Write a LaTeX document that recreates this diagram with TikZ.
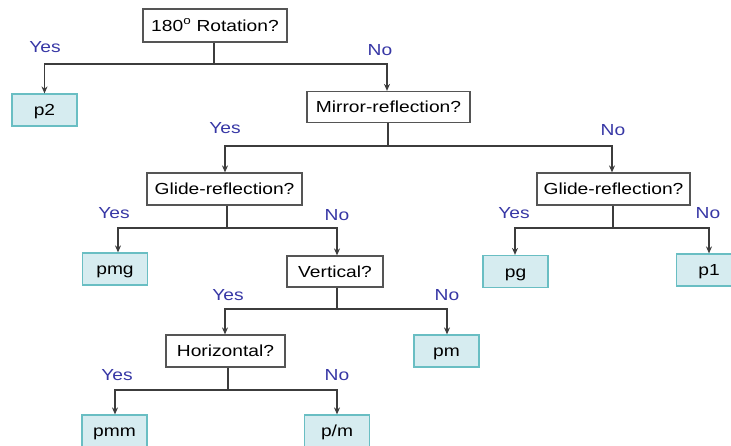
\documentclass[tikz,border=0pt]{standalone}
\usepackage{fontspec}
\setmainfont[FakeStretch=1.2]{Liberation Sans}
\usetikzlibrary{arrows.meta}
\definecolor{qborder}{RGB}{85,85,85}
\definecolor{leaffill}{RGB}{214,236,240}
\definecolor{leafborder}{RGB}{105,190,195}
\definecolor{ansblue}{RGB}{55,55,165}
\definecolor{conncol}{RGB}{60,60,60}
\tikzset{
  txt/.style={inner sep=0pt, text height=11.5pt, text depth=0pt, font=\fontsize{16}{19}\selectfont},
  qbox/.style={txt, draw=qborder, line width=1.2pt, fill=white},
  leaf/.style={txt, draw=leafborder, line width=1.2pt, fill=leaffill, minimum width=65pt, minimum height=32pt},
  ans/.style={txt, text=ansblue},
  link/.style={draw=conncol, line width=1.1pt},
  arr/.style={link, -{Stealth[length=7pt,width=6pt]}},
}
\begin{document}
\begin{tikzpicture}[x=1pt,y=-1pt]
\useasboundingbox (0,0) rectangle (731,446);
\clip (0,0) rectangle (731,446);
% question nodes
\node[qbox, minimum width=144pt, minimum height=33pt] (root) at (215,25.5) {180\textsuperscript{o} Rotation?};
\node[qbox, minimum width=163pt, minimum height=31pt] (mirror) at (388.5,107) {Mirror-reflection?};
\node[qbox, minimum width=155pt, minimum height=32pt] (glideA) at (224.5,189) {Glide-reflection?};
\node[qbox, minimum width=153pt, minimum height=32pt] (glideB) at (613.5,189) {Glide-reflection?};
\node[qbox, minimum width=96pt, minimum height=31pt] (vert) at (335,271.5) {Vertical?};
\node[qbox, minimum width=119pt, minimum height=32pt] (horiz) at (225.5,351) {Horizontal?};
% leaves
\node[leaf] (p2) at (44.5,110) {p2};
\node[leaf] (pmg) at (115,269) {pmg};
\node[leaf] (pg) at (515.5,271.5) {pg};
\node[leaf] (p1) at (709,270) {p1};
\node[leaf] (pm) at (446.5,351) {pm};
\node[leaf] (pmm) at (114.5,431) {pmm};
\node[leaf] (pslm) at (337,431) {p/m};
% junctions
\coordinate (j1) at (214,64);
\coordinate (j2) at (388,146);
\coordinate (j3) at (227,228);
\coordinate (j4) at (613,228);
\coordinate (j5) at (337,309);
\coordinate (j6) at (228,390);
% connectors
\draw[link] (root.south -| j1) -- (j1);
\draw[arr] (j1) -| (p2.north);
\draw[arr] (j1) -| (mirror.north -| 387,0);
\draw[link] (mirror.south -| j2) -- (j2);
\draw[arr] (j2) -| (glideA.north -| 225,0);
\draw[arr] (j2) -| (glideB.north -| 612,0);
\draw[link] (glideA.south -| j3) -- (j3);
\draw[arr] (j3) -| (pmg.north -| 118,0);
\draw[arr] (j3) -| (vert.north -| 337,0);
\draw[link] (glideB.south -| j4) -- (j4);
\draw[arr] (j4) -| (pg.north -| 515,0);
\draw[arr] (j4) -| (p1.north);
\draw[link] (vert.south -| j5) -- (j5);
\draw[arr] (j5) -| (horiz.north -| 225,0);
\draw[arr] (j5) -| (pm.north -| 447,0);
\draw[link] (horiz.south -| j6) -- (j6);
\draw[arr] (j6) -| (pmm.north -| 115,0);
\draw[arr] (j6) -| (pslm.north);
% answer labels
\node[ans] (y1) at (45,47) {Yes};
\node[ans] (n1) at (380,50) {No};
\node[ans] (y2) at (225,128) {Yes};
\node[ans] (n2) at (613,130) {No};
\node[ans] (y3) at (114,213) {Yes};
\node[ans] (n3) at (337,215) {No};
\node[ans] (y4) at (514,213) {Yes};
\node[ans] (n4) at (708,213) {No};
\node[ans] (y5) at (228,295) {Yes};
\node[ans] (n5) at (447,295) {No};
\node[ans] (y6) at (117,375) {Yes};
\node[ans] (n6) at (337,375) {No};
\end{tikzpicture}
\end{document}
